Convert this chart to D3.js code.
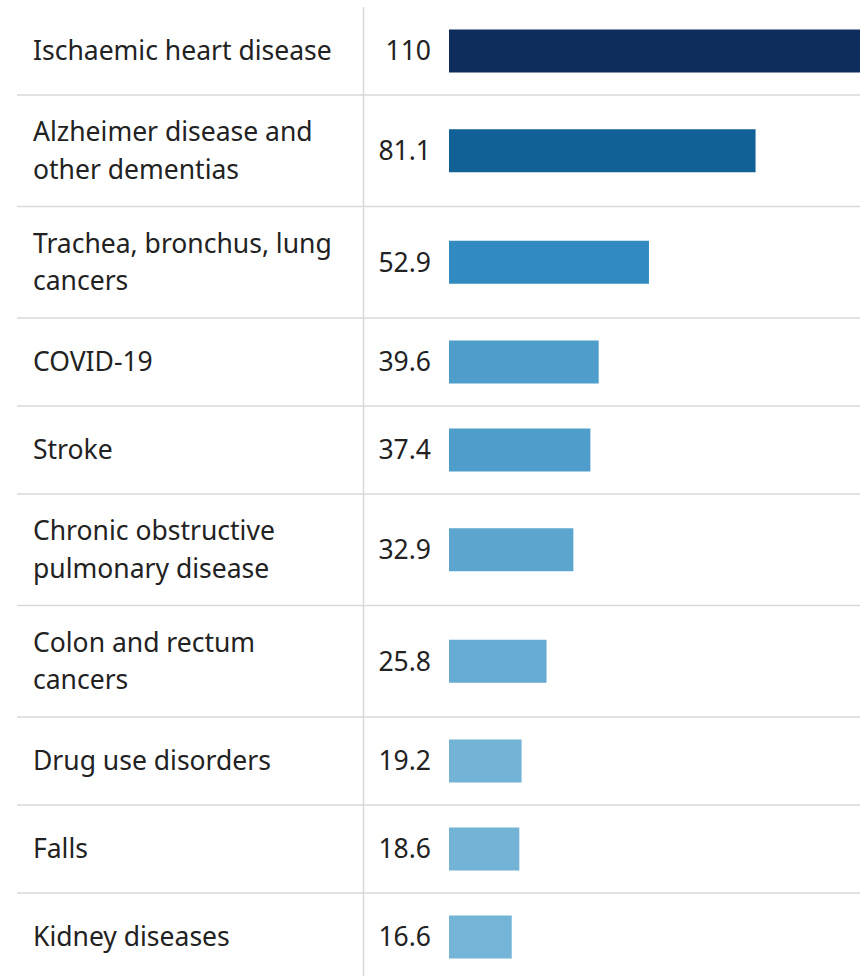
<!DOCTYPE html>
<html>
<head>
<meta charset="utf-8">
<script src="https://cdn.jsdelivr.net/npm/d3@7"></script>
<style>
  html, body { margin: 0; padding: 0; background: #fff; }
  svg { display: block; }
  text { font-family: "Noto Sans", "Open Sans", sans-serif; fill: #222; }
</style>
</head>
<body>
<div id="chart"></div>
<script>
// Leading causes of death: label lines, values and bar colours
const causes = [
  "Ischaemic heart disease",
  "Alzheimer disease and\nother dementias",
  "Trachea, bronchus, lung\ncancers",
  "COVID-19",
  "Stroke",
  "Chronic obstructive\npulmonary disease",
  "Colon and rectum\ncancers",
  "Drug use disorders",
  "Falls",
  "Kidney diseases"
];
const values = [110, 81.1, 52.9, 39.6, 37.4, 32.9, 25.8, 19.2, 18.6, 16.6];
const valueLabels = ["110", "81.1", "52.9", "39.6", "37.4", "32.9", "25.8", "19.2", "18.6", "16.6"];
const barColors = ["#0f2d5c", "#116096", "#318bc1", "#4f9dcb", "#4f9dcb", "#5ba5cf", "#66abd2", "#72b3d6", "#72b3d6", "#74b5d7"];

const width = 860, height = 976;
const top0 = 7;
const rowH1 = 88, rowH2 = 111.5;
const fontSize = 26.5, lineGap = 37.5;
const barH = 43;

const rows = causes.map((c, i) => ({ lines: c.split("\n"), value: values[i], label: valueLabels[i], color: barColors[i] }));
let acc = top0;
rows.forEach(r => { r.y0 = acc; r.h = r.lines.length > 1 ? rowH2 : rowH1; acc += r.h; r.y1 = acc; r.cy = (r.y0 + r.y1) / 2; });

const x = d3.scaleLinear().domain([0, 110]).range([449, 449 + 110 * 3.78]);

const svg = d3.select("#chart").append("svg")
  .attr("width", width).attr("height", height);

const clip = svg.append("defs").append("clipPath").attr("id", "clip")
  .append("rect").attr("x", 0).attr("y", 0).attr("width", width).attr("height", height);

const g = svg.append("g").attr("clip-path", "url(#clip)");

// row separators
g.selectAll("line.sep").data(rows.slice(0, -1)).join("line")
  .attr("class", "sep")
  .attr("x1", 17).attr("x2", width)
  .attr("y1", d => d.y1).attr("y2", d => d.y1)
  .attr("stroke", "#d9d9d9").attr("stroke-width", 1.6);

// column divider
g.append("line")
  .attr("x1", 363.5).attr("x2", 363.5)
  .attr("y1", top0).attr("y2", height)
  .attr("stroke", "#d9d9d9").attr("stroke-width", 1.6);

// bars
g.selectAll("rect.bar").data(rows).join("rect")
  .attr("class", "bar")
  .attr("x", x(0))
  .attr("y", d => d.cy - barH / 2)
  .attr("width", d => x(d.value) - x(0))
  .attr("height", barH)
  .attr("fill", d => d.color);

const capHalf = fontSize * 0.714 / 2;

// category labels
const lbl = g.selectAll("text.cat").data(rows).join("text")
  .attr("class", "cat")
  .attr("font-size", fontSize);
lbl.each(function(d) {
  const n = d.lines.length;
  d3.select(this).selectAll("tspan").data(d.lines).join("tspan")
    .attr("x", 33)
    .attr("y", (t, j) => d.cy + capHalf + (j - (n - 1) / 2) * lineGap)
    .text(t => t);
});

// value labels
g.selectAll("text.val").data(rows).join("text")
  .attr("class", "val")
  .attr("font-size", fontSize)
  .attr("text-anchor", "end")
  .attr("x", 431)
  .attr("y", d => d.cy + capHalf)
  .text(d => d.label);
</script>
</body>
</html>
